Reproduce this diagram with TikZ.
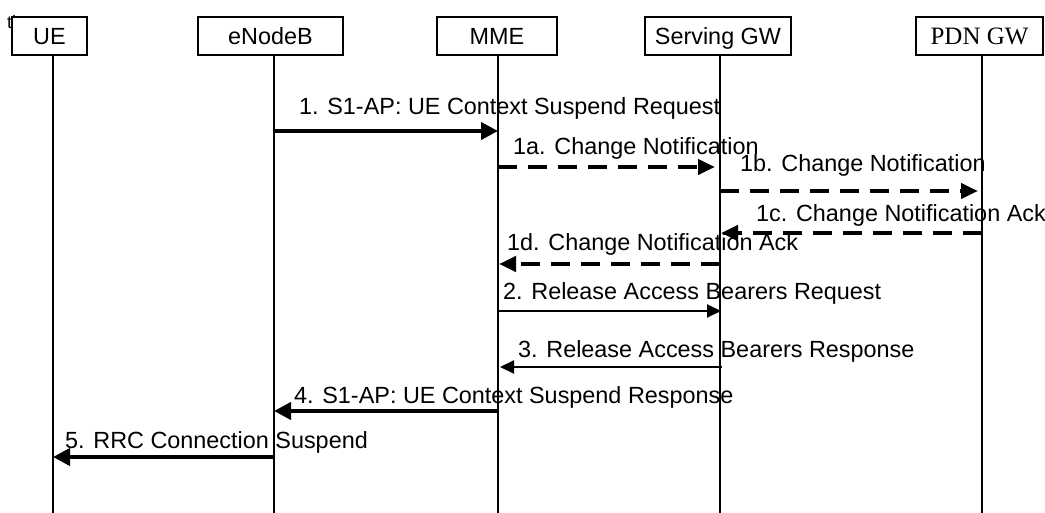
\documentclass[tikz,border=0pt]{standalone}
\usepackage{fontspec}
\setmainfont{Liberation Sans}
\newfontfamily\timesfont{Liberation Serif}
\usetikzlibrary{arrows.meta}
\begin{document}
\begin{tikzpicture}[x=1pt,y=-1pt,
  ent/.style={draw,line width=1.8pt,fill=white,minimum height=38pt,inner sep=0pt,
    font=\fontsize{23.4}{28}\selectfont,text height=16.7pt,text depth=0pt},
  life/.style={line width=1.1pt},
  lbl/.style={anchor=base west,inner sep=0pt,font=\fontsize{23.4}{28}\selectfont},
  thickmsg/.style={line width=4pt,-{Triangle[length=17pt,width=17pt]}},
  dashmsg/.style={line width=4.5pt,dash pattern=on 19pt off 11pt,-{Triangle[length=17pt,width=15pt]}},
  thinmsg/.style={line width=2pt,-{Triangle[length=14pt,width=13pt]}}]
\useasboundingbox (0,0) rectangle (1045,513);
% stray text at top-left
\node[anchor=base west,inner sep=0pt,font=\fontsize{18}{20}\selectfont] (stray) at (7,29) {ti};
% entities
\node[ent,minimum width=75pt] (ue) at (49.5,36) {UE};
\node[ent,minimum width=145pt] (enb) at (270.5,36) {eNodeB};
\node[ent,minimum width=120pt] (mme) at (497,36) {MME};
\node[ent,minimum width=146pt] (sgw) at (718,36) {Serving GW};
\node[ent,minimum width=127pt,font=\timesfont\fontsize{25}{30}\selectfont] (pgw) at (979.5,36) {PDN GW};
% lifelines
\coordinate (ueT) at (53,55);  \coordinate (ueB) at (53,513);
\coordinate (enbT) at (274,55); \coordinate (enbB) at (274,513);
\coordinate (mmeT) at (498,55); \coordinate (mmeB) at (498,513);
\coordinate (sgwT) at (720,55); \coordinate (sgwB) at (720,513);
\coordinate (pgwT) at (982,55); \coordinate (pgwB) at (982,513);
\draw[life] (ueT) -- (ueB);
\draw[life] (enbT) -- (enbB);
\draw[life] (mmeT) -- (mmeB);
\draw[life] (sgwT) -- (sgwB);
\draw[life] (pgwT) -- (pgwB);
% 1
\coordinate (m1a) at (274,131); \coordinate (m1b) at (498,131);
\draw[thickmsg] (m1a) -- (m1b);
\node[lbl] (t1) at (299,115) {1. S1-AP: UE Context Suspend Request};
% 1a
\coordinate (m2a) at (498,167); \coordinate (m2b) at (715,167);
\draw[dashmsg] (m2a) -- (m2b);
\node[lbl] (t2) at (513,155) {1a. Change Notification};
% 1b
\coordinate (m3a) at (720,191); \coordinate (m3b) at (978,191);
\draw[dashmsg] (m3a) -- (m3b);
\node[lbl] (t3) at (740,172) {1b. Change Notification};
% 1c
\coordinate (m4a) at (982,233); \coordinate (m4b) at (721,233);
\draw[dashmsg] (m4a) -- (m4b);
\node[lbl] (t4) at (756,222) {1c. Change Notification Ack};
% 1d
\coordinate (m5a) at (720,264); \coordinate (m5b) at (499,264);
\draw[dashmsg] (m5a) -- (m5b);
\node[lbl] (t5) at (507,251) {1d. Change Notification Ack};
% 2
\coordinate (m6a) at (498,311); \coordinate (m6b) at (721,311);
\draw[thinmsg] (m6a) -- (m6b);
\node[lbl] (t6) at (503,300) {2. Release Access Bearers Request};
% 3
\coordinate (m7a) at (722,367); \coordinate (m7b) at (500,367);
\draw[thinmsg] (m7a) -- (m7b);
\node[lbl] (t7) at (518,357) {3. Release Access Bearers Response};
% 4
\coordinate (m8a) at (498,411); \coordinate (m8b) at (274,411);
\draw[thickmsg] (m8a) -- (m8b);
\node[lbl] (t8) at (294,403) {4. S1-AP: UE Context Suspend Response};
% 5
\coordinate (m9a) at (274,457); \coordinate (m9b) at (53,457);
\draw[thickmsg] (m9a) -- (m9b);
\node[lbl] (t9) at (65,448) {5. RRC Connection Suspend};
\end{tikzpicture}
\end{document}
